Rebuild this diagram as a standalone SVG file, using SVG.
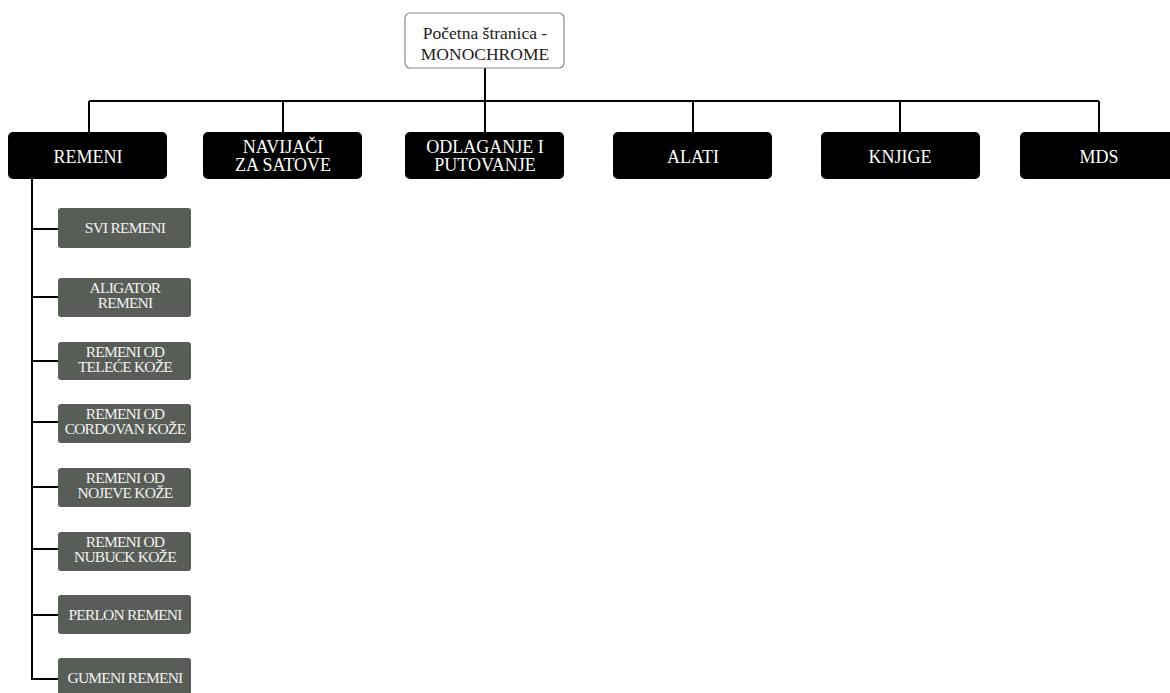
<svg xmlns="http://www.w3.org/2000/svg" width="1170" height="693" viewBox="0 0 1170 693">
<style>
.root{fill:#ffffff;stroke:#8a8a8a;stroke-width:1.2}
.top{fill:#000000}
.sub{fill:#595d57}
.tt{font-family:"Liberation Serif","Times New Roman",serif;font-size:18px;fill:#ffffff;text-anchor:middle}
.st{font-family:"Liberation Serif","Times New Roman",serif;font-size:15.5px;letter-spacing:-0.8px;fill:#f2f2f2;text-anchor:middle}
.rt{font-family:"Liberation Serif","Times New Roman",serif;font-size:17.5px;fill:#222222;text-anchor:middle}
.con{fill:none;stroke:#000000;stroke-width:2}
</style>
<rect width="1170" height="693" fill="#ffffff"/>
<g id="connectors">
<path class="con" d="M485 68V101M89 101H1099M89 101V132M283 101V132M485 101V132M693 101V132M900 101V132M1099 101V132"/>
<path class="con" d="M32 179V679H58M32 229H58M32 297H58M32 361H58M32 422H58M32 487H58M32 549H58M32 615H58"/>
</g>
<g id="root">
<rect class="root" x="405" y="13" width="159" height="55" rx="5"/>
<text class="rt" x="485" y="39">Početna štranica -</text>
<text class="rt" x="485" y="60">MONOCHROME</text>
</g>
<g id="remeni">
<rect class="top" x="8" y="132" width="159" height="47" rx="5"/>
<text class="tt" x="88" y="163">REMENI</text>
</g>
<g id="navijaci">
<rect class="top" x="203" y="132" width="159" height="47" rx="5"/>
<text class="tt" x="283" y="153">NAVIJAČI</text>
<text class="tt" x="283" y="171">ZA SATOVE</text>
</g>
<g id="odlaganje">
<rect class="top" x="405" y="132" width="159" height="47" rx="5"/>
<text class="tt" x="485" y="153">ODLAGANJE I</text>
<text class="tt" x="485" y="171">PUTOVANJE</text>
</g>
<g id="alati">
<rect class="top" x="613" y="132" width="159" height="47" rx="5"/>
<text class="tt" x="693" y="163">ALATI</text>
</g>
<g id="knjige">
<rect class="top" x="821" y="132" width="159" height="47" rx="5"/>
<text class="tt" x="900" y="163">KNJIGE</text>
</g>
<g id="mds">
<rect class="top" x="1020" y="132" width="159" height="47" rx="5"/>
<text class="tt" x="1099" y="163">MDS</text>
</g>
<g id="svi-remeni">
<rect class="sub" x="58" y="208" width="133" height="40" rx="3"/>
<text class="st" x="125" y="233">SVI REMENI</text>
</g>
<g id="aligator">
<rect class="sub" x="58" y="278" width="133" height="39" rx="3"/>
<text class="st" x="125" y="293">ALIGATOR</text>
<text class="st" x="125" y="308">REMENI</text>
</g>
<g id="telece">
<rect class="sub" x="58" y="342" width="133" height="38" rx="3"/>
<text class="st" x="125" y="357">REMENI OD</text>
<text class="st" x="125" y="372">TELEĆE KOŽE</text>
</g>
<g id="cordovan">
<rect class="sub" x="58" y="404" width="133" height="39" rx="3"/>
<text class="st" x="125" y="419">REMENI OD</text>
<text class="st" x="125" y="434">CORDOVAN KOŽE</text>
</g>
<g id="nojeve">
<rect class="sub" x="58" y="468" width="133" height="39" rx="3"/>
<text class="st" x="125" y="483">REMENI OD</text>
<text class="st" x="125" y="498">NOJEVE KOŽE</text>
</g>
<g id="nubuck">
<rect class="sub" x="58" y="532" width="133" height="39" rx="3"/>
<text class="st" x="125" y="547">REMENI OD</text>
<text class="st" x="125" y="562">NUBUCK KOŽE</text>
</g>
<g id="perlon">
<rect class="sub" x="58" y="595" width="133" height="39" rx="3"/>
<text class="st" x="125" y="620">PERLON REMENI</text>
</g>
<g id="gumeni">
<rect class="sub" x="58" y="658" width="133" height="42" rx="3"/>
<text class="st" x="125" y="683">GUMENI REMENI</text>
</g>
</svg>
